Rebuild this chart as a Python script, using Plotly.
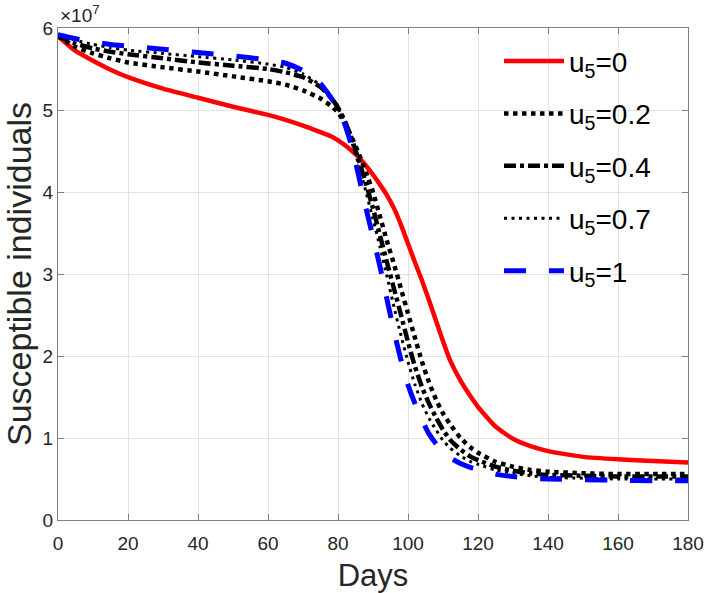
import plotly.graph_objects as go

# Days sampled
days = [0, 5, 10, 15, 20, 30, 40, 50, 60, 65, 70, 75, 78, 80, 82, 84, 86, 88, 90, 92,
        94, 96, 98, 100, 102, 104, 106, 108, 110, 112, 115, 118, 120, 125, 130, 135,
        140, 150, 160, 170, 180]

# Susceptible individuals (units of 1e7)
s_u0 = [5.90, 5.72, 5.60, 5.49, 5.40, 5.26, 5.15, 5.04, 4.94, 4.88, 4.81, 4.73, 4.68, 4.63,
        4.57, 4.50, 4.42, 4.32, 4.21, 4.09, 3.96, 3.80, 3.60, 3.37, 3.14, 2.92, 2.68, 2.43,
        2.18, 1.95, 1.70, 1.50, 1.38, 1.14, 0.99, 0.90, 0.84, 0.77, 0.74, 0.72, 0.70]
s_u02 = [5.90, 5.77, 5.69, 5.63, 5.58, 5.52, 5.47, 5.41, 5.35, 5.31, 5.24, 5.14, 5.05, 4.97,
         4.84, 4.66, 4.46, 4.24, 4.00, 3.70, 3.40, 3.12, 2.82, 2.52, 2.22, 1.93, 1.68, 1.47,
         1.30, 1.17, 1.00, 0.88, 0.82, 0.71, 0.65, 0.61, 0.59, 0.57, 0.56, 0.56, 0.56]
s_u04 = [5.90, 5.81, 5.75, 5.71, 5.68, 5.63, 5.58, 5.54, 5.50, 5.46, 5.40, 5.28, 5.15, 5.03,
         4.86, 4.64, 4.38, 4.10, 3.80, 3.47, 3.14, 2.82, 2.50, 2.17, 1.87, 1.62, 1.42, 1.25,
         1.10, 0.98, 0.86, 0.77, 0.73, 0.65, 0.60, 0.57, 0.55, 0.54, 0.53, 0.53, 0.53]
s_u07 = [5.92, 5.85, 5.80, 5.76, 5.73, 5.69, 5.65, 5.61, 5.56, 5.52, 5.44, 5.30, 5.15, 5.02,
         4.85, 4.60, 4.32, 4.00, 3.67, 3.33, 2.97, 2.60, 2.25, 1.93, 1.65, 1.42, 1.24, 1.10,
         0.97, 0.88, 0.78, 0.71, 0.68, 0.61, 0.57, 0.54, 0.52, 0.51, 0.50, 0.50, 0.50]
s_u1 = [5.92, 5.87, 5.83, 5.80, 5.78, 5.74, 5.70, 5.66, 5.61, 5.57, 5.48, 5.32, 5.15, 5.02,
        4.82, 4.55, 4.18, 3.80, 3.45, 3.09, 2.69, 2.30, 1.95, 1.65, 1.42, 1.22, 1.05, 0.93,
        0.84, 0.76, 0.69, 0.64, 0.62, 0.56, 0.53, 0.51, 0.50, 0.49, 0.485, 0.48, 0.48]

x_ticks = [0, 20, 40, 60, 80, 100, 120, 140, 160, 180]
y_ticks = [0, 1, 2, 3, 4, 5, 6]

series = [
    ("u<sub>5</sub>=0", s_u0, dict(color="#ff0000", width=4.5, dash="solid")),
    ("u<sub>5</sub>=0.2", s_u02, dict(color="#000000", width=4.5, dash="4.5px,4.5px")),
    ("u<sub>5</sub>=0.4", s_u04, dict(color="#000000", width=4.5, dash="12px,4px,4px,4px")),
    ("u<sub>5</sub>=0.7", s_u07, dict(color="#000000", width=3, dash="3px,4.5px")),
    ("u<sub>5</sub>=1", s_u1, dict(color="#0000ff", width=5, dash="22px,23px")),
]

fig = go.Figure()
for i, (name, vals, line) in enumerate(series):
    fig.add_trace(go.Scatter(x=days, y=vals, mode="lines", name=name,
                             legendgroup=f"g{i}",
                             line=dict(shape="spline", smoothing=0.5, **line)))

font_family = "Liberation Sans, Arial, sans-serif"
axis_common = dict(
    showline=True, linecolor="#7f7f7f", linewidth=1.2, mirror="ticks",
    ticks="inside", ticklen=6, tickcolor="#7f7f7f",
    showgrid=True, gridcolor="#e3e3e3", gridwidth=1,
    zeroline=False, automargin=False,
    tickfont=dict(size=19, color="#262626", family=font_family),
)

fig.update_layout(
    width=708, height=593,
    margin=dict(l=58, r=20, t=28, b=73, autoexpand=False),
    paper_bgcolor="white", plot_bgcolor="white",
    font=dict(family=font_family, color="#262626"),
    xaxis=dict(range=[0, 180], tickvals=x_ticks, ticklabelstandoff=6,
               title=dict(text="Days", font=dict(size=31, family=font_family), standoff=14),
               **axis_common),
    yaxis=dict(range=[0, 6], tickvals=y_ticks,
               title=dict(text="Susceptible individuals", font=dict(size=34, family=font_family), standoff=4),
               **axis_common),
    legend=dict(x=0.70, y=0.983, xanchor="left", yanchor="top",
                bgcolor="rgba(0,0,0,0)", borderwidth=0,
                font=dict(size=28, family=font_family, color="#000000"),
                itemwidth=60, tracegroupgap=13),
    annotations=[dict(text="×10<sup>7</sup>", xref="paper", yref="paper", x=0, y=1.0,
                      xanchor="left", yanchor="bottom", showarrow=False,
                      font=dict(size=19, color="#262626", family=font_family))],
)

fig.write_html("out.html", config={"displayModeBar": False},
               post_script="document.body.style.margin='0px';document.body.style.overflow='hidden';")
